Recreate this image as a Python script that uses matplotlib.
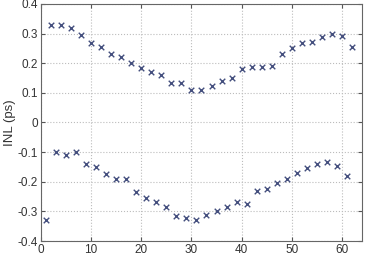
import matplotlib
matplotlib.use("Agg")
import matplotlib.pyplot as plt

x_upper = list(range(2, 63, 2))
inl_upper = [0.329, 0.328, 0.319, 0.296, 0.269, 0.255, 0.230, 0.220, 0.201, 0.184,
             0.169, 0.161, 0.132, 0.132, 0.108, 0.109, 0.124, 0.139, 0.150, 0.179,
             0.188, 0.186, 0.192, 0.231, 0.252, 0.267, 0.273, 0.288, 0.297, 0.292,
             0.254]
x_lower = list(range(1, 62, 2))
inl_lower = [-0.328, -0.098, -0.108, -0.098, -0.139, -0.151, -0.174, -0.192, -0.189,
             -0.235, -0.256, -0.268, -0.285, -0.317, -0.321, -0.329, -0.313, -0.297,
             -0.285, -0.267, -0.276, -0.230, -0.225, -0.204, -0.192, -0.171, -0.154,
             -0.141, -0.133, -0.146, -0.181]
xticks = [0, 10, 20, 30, 40, 50, 60]
yticks = [-0.4, -0.3, -0.2, -0.1, 0, 0.1, 0.2, 0.3, 0.4]
ytick_labels = ["-0.4", "-0.3", "-0.2", "-0.1", "0", "0.1", "0.2", "0.3", "0.4"]

plt.rcParams['font.family'] = ['Liberation Sans', 'DejaVu Sans']
fig = plt.figure(figsize=(3.68, 2.64), dpi=100)
ax = fig.add_axes([0.111, 0.087, 0.873, 0.898])
col = '#444f7e'
ax.scatter(x_upper, inl_upper, marker='x', s=16, color=col, linewidths=1.0, zorder=3)
ax.scatter(x_lower, inl_lower, marker='x', s=16, color=col, linewidths=1.0, zorder=3)
ax.set_xlim(0, 64)
ax.set_ylim(-0.4, 0.4)
ax.set_xticks(xticks)
ax.set_yticks(yticks)
ax.set_yticklabels(ytick_labels)
ax.grid(True, linestyle=':', color='#bcbcbc', linewidth=0.8)
ax.tick_params(direction='in', top=True, right=True, labelsize=8.5, length=3,
               color='#555555', labelcolor='#333333', pad=2)
for s in ax.spines.values():
    s.set_color('#666666')
    s.set_linewidth(0.8)
ax.set_ylabel('INL (ps)', fontsize=9.5, color='#333333', labelpad=1)
fig.savefig('out.png', dpi=100)
